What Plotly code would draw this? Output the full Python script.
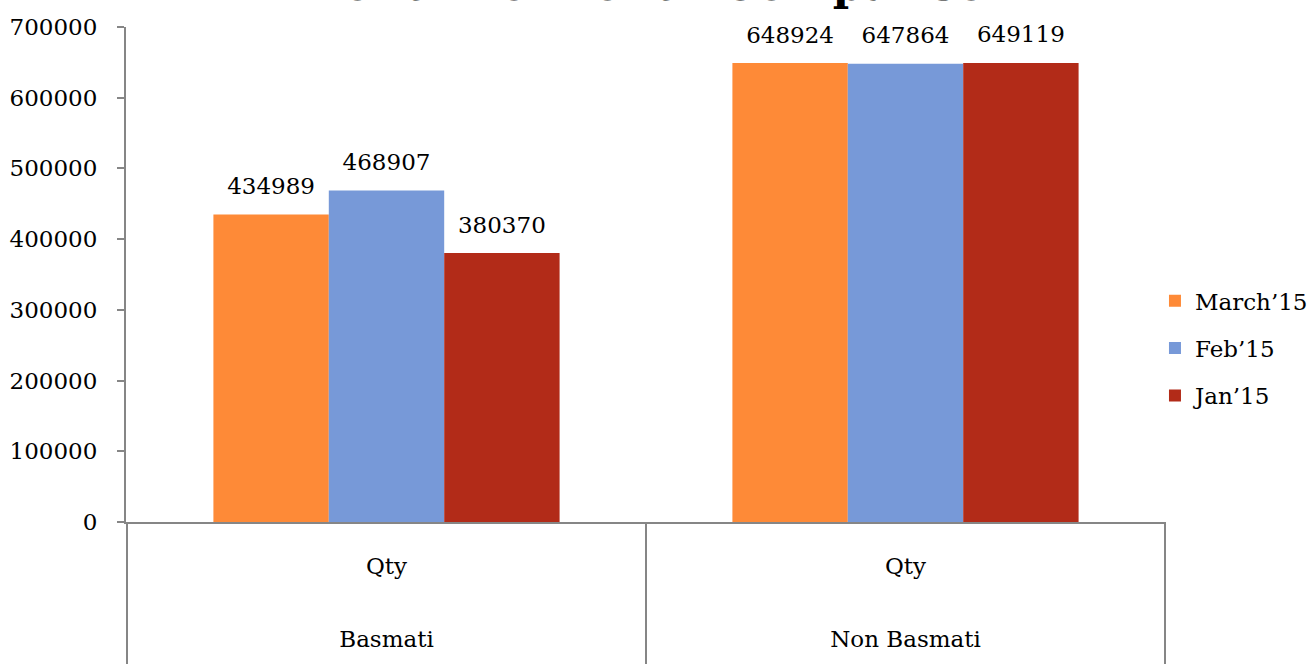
import plotly.graph_objects as go

categories = ["Basmati", "Non Basmati"]
measure = ["Qty", "Qty"]
series_names = ["March\u201915", "Feb\u201915", "Jan\u201915"]
march_vals = [434989, 648924]
feb_vals = [468907, 647864]
jan_vals = [380370, 649119]
colors = ["#FE8A37", "#7799D8", "#B22B18"]
y_ticks = [0, 100000, 200000, 300000, 400000, 500000, 600000, 700000]

FONT = "DejaVu Serif"
FS = 23
GAP = 0.333
fig = go.Figure()
for name, vals, col in zip(series_names, [march_vals, feb_vals, jan_vals], colors):
    fig.add_trace(go.Bar(
        x=categories, y=vals, name=name,
        marker=dict(color=col, line=dict(width=0)),
        legendgroup=name,
    ))
for name, vals in zip(series_names, [march_vals, feb_vals, jan_vals]):
    fig.add_trace(go.Scatter(
        x=categories, y=vals, mode="markers+text", showlegend=False,
        text=[str(v) for v in vals], textposition="top center",
        marker=dict(size=22, color="rgba(0,0,0,0)"),
        textfont=dict(family=FONT, size=FS, color="#000"),
        cliponaxis=False, hoverinfo="skip", legendgroup=name,
    ))

plot_h = 664 - 27 - 142
shapes = []
for i in range(len(categories) + 1):
    shapes.append(dict(type="line", xref="x", yref="paper", x0=i - 0.5, x1=i - 0.5,
                       y0=0, y1=-142 / plot_h, line=dict(color="#868686", width=2)))
annotations = [dict(text="<b>Month To Month Comparison</b>", xref="paper", yref="paper",
                    x=0.51, y=1.031, xanchor="center", yanchor="bottom", showarrow=False,
                    font=dict(family=FONT, size=44, color="#000"))]
for c, m in zip(categories, measure):
    annotations.append(dict(text=m, xref="x", yref="paper", x=c, y=-44 / plot_h,
                            xanchor="center", yanchor="middle", showarrow=False,
                            font=dict(family=FONT, size=FS, color="#000")))

fig.update_layout(
    width=1314, height=664,
    margin=dict(l=126, r=148, t=27, b=142, autoexpand=False),
    paper_bgcolor="white", plot_bgcolor="white",
    barmode="group", bargap=GAP, bargroupgap=0,
    scattermode="group", scattergap=GAP,
    font=dict(family=FONT, size=FS, color="#000"),
    showlegend=True,
    legend=dict(x=0.9894, y=0.351, xanchor="left", yanchor="middle",
                font=dict(family=FONT, size=FS), tracegroupgap=14.5),
    shapes=shapes, annotations=annotations,
)
fig.update_yaxes(range=[0, 700000], tickvals=y_ticks, ticktext=[str(v) for v in y_ticks],
                 showgrid=False, showline=True, linecolor="#868686", linewidth=2,
                 ticks="outside", ticklen=7, tickcolor="#868686", tickwidth=2,
                 ticklabelstandoff=15, automargin=False,
                 tickfont=dict(family=FONT, size=FS), zeroline=False)
fig.update_xaxes(type="category", showline=True, linecolor="#868686", linewidth=2,
                 ticks="", ticklabelstandoff=95, automargin=False,
                 tickfont=dict(family=FONT, size=FS), showgrid=False)
fig.write_html("out.html", config={"displayModeBar": False},
               post_script="document.body.style.margin='0px';")
